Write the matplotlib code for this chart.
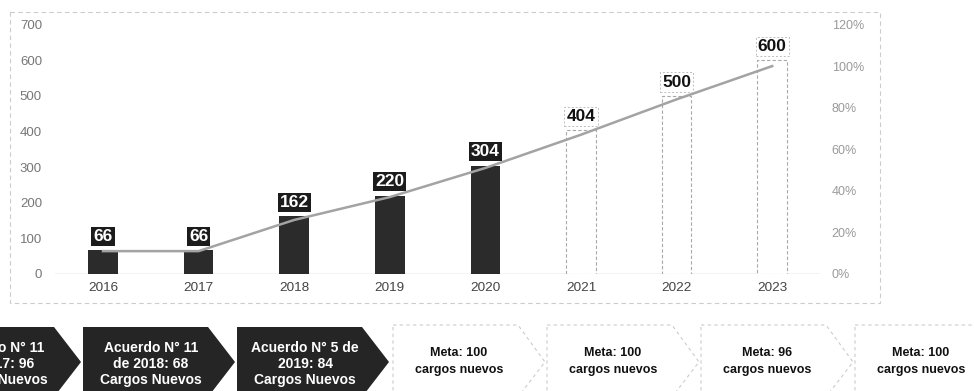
import matplotlib
matplotlib.use("Agg")
import matplotlib.pyplot as plt
from matplotlib.patches import Polygon, Rectangle
import numpy as np

# ---------------- data ----------------
years = ["2016", "2017", "2018", "2019", "2020", "2021", "2022", "2023"]
cargos = [66, 66, 162, 220, 304, 404, 500, 600]
is_actual = [True, True, True, True, True, False, False, False]
avance_pct = [11, 11, 26, 37, 51, 67, 84, 100]
left_ticks = [0, 100, 200, 300, 400, 500, 600, 700]
right_ticks = [0, 20, 40, 60, 80, 100, 120]

acuerdos = [
    ["Acuerdo N° 11", "de 2017: 96", "Cargos Nuevos"],
    ["Acuerdo N° 11", "de 2018: 68", "Cargos Nuevos"],
    ["Acuerdo N° 5 de", "2019: 84", "Cargos Nuevos"],
]
metas = [
    ["Meta: 100", "cargos nuevos"],
    ["Meta: 100", "cargos nuevos"],
    ["Meta: 96", "cargos nuevos"],
    ["Meta: 100", "cargos nuevos"],
]

# ---------------- style ----------------
plt.rcParams["font.family"] = ["Liberation Sans", "DejaVu Sans"]
W, H = 974, 391
fig = plt.figure(figsize=(W / 100, H / 100), dpi=100)
fig.patch.set_facecolor("white")

# full-figure overlay in pixel coordinates for the frame and the arrow row
bg = fig.add_axes([0, 0, 1, 1])
bg.set_xlim(0, W)
bg.set_ylim(H, 0)
bg.axis("off")

# chart frame (faint dashed)
bg.add_patch(Rectangle((10, 12), 870, 291, fill=False, ec="#cccccc",
                       lw=0.8, ls=(0, (4, 3))))

# ---------------- main chart ----------------
ax = fig.add_axes([55.2 / W, (H - 274) / H, (820 - 55.2) / W, (274 - 24.5) / H])
ax.patch.set_alpha(0)
x = np.arange(len(years))
bw = 0.31
for xi, v, act in zip(x, cargos, is_actual):
    if act:
        ax.bar(xi, v, width=bw, color="#2b2b2b", zorder=2)
    else:
        ax.bar(xi, v, width=bw, facecolor="white", edgecolor="#a8a8a8",
               lw=0.8, ls=(0, (3, 2)), zorder=2)

ax.axhline(0, color="#c4c4c4", lw=1.0, zorder=1)
ax.set_xlim(-0.5, len(years) - 0.5)
ax.set_ylim(0, 700)
ax.set_yticks(left_ticks)
ax.set_yticklabels([str(t) for t in left_ticks], color="#777777", fontsize=9.5)
ax.set_xticks(x)
ax.set_xticklabels(years, color="#444444", fontsize=9.7)
ax.tick_params(axis="y", length=0, pad=9.5)
ax.tick_params(axis="x", length=0, pad=6)
for s in ax.spines.values():
    s.set_visible(False)

ax2 = ax.twinx()
ax2.set_ylim(0, 1.2)
ax2.plot(x, np.array(avance_pct) / 100, color="#a3a3a3", lw=1.8, zorder=3)
ax2.set_yticks([t / 100 for t in right_ticks])
ax2.set_yticklabels([f"{t}%" for t in right_ticks], color="#9a9a9a", fontsize=9)
ax2.tick_params(axis="y", length=0, pad=8.5)
for s in ax2.spines.values():
    s.set_visible(False)

# value labels
for xi, v, act in zip(x, cargos, is_actual):
    if act:
        ax2.annotate(str(v), xy=(xi, v), xycoords=ax.transData,
                     xytext=(0, 4.5), textcoords="offset points",
                     ha="center", va="bottom", fontsize=12.5, fontweight="bold",
                     color="white", zorder=5,
                     bbox=dict(boxstyle="square,pad=0.12", fc="#1c1c1c", ec="none"))
    else:
        ax2.annotate(str(v), xy=(xi, v), xycoords=ax.transData,
                     xytext=(0, 4.5), textcoords="offset points",
                     ha="center", va="bottom", fontsize=12.5, fontweight="bold",
                     color="#111111", zorder=5,
                     bbox=dict(boxstyle="square,pad=0.12", fc="white",
                               ec="#bdbdbd", lw=0.7, ls=(0, (2, 2))))

# ---------------- arrow row ----------------
period = 154
x_first = -71
top, mid, bottom = 327, 362, 397
body, tip = 125, 152

for i, lines in enumerate(acuerdos):
    L = x_first + i * period
    pts = [(L, top), (L + body, top), (L + tip, mid), (L + body, bottom), (L, bottom)]
    bg.add_patch(Polygon(pts, closed=True, fc="#252525", ec="none"))
    cx = L + 68
    for j, t in enumerate(lines):
        bg.text(cx, 348 + j * 16, t, ha="center", va="center", color="white",
                fontsize=10, fontweight="bold")

for k, lines in enumerate(metas):
    i = k + len(acuerdos)
    L = x_first + i * period + 2
    pts = [(L, top - 2), (L + body, top - 2), (L + tip, mid), (L + body, bottom), (L, bottom)]
    bg.add_patch(Polygon(pts, closed=True, fc="white", ec="#cccccc",
                         lw=0.8, ls=(0, (3, 3))))
    cx = L + 66
    bg.text(cx, 353, lines[0], ha="center", va="center", color="#111111",
            fontsize=9, fontweight="bold")
    bg.text(cx, 369.5, lines[1], ha="center", va="center", color="#111111",
            fontsize=9, fontweight="bold")

fig.savefig("out.png", dpi=100, facecolor="white")
